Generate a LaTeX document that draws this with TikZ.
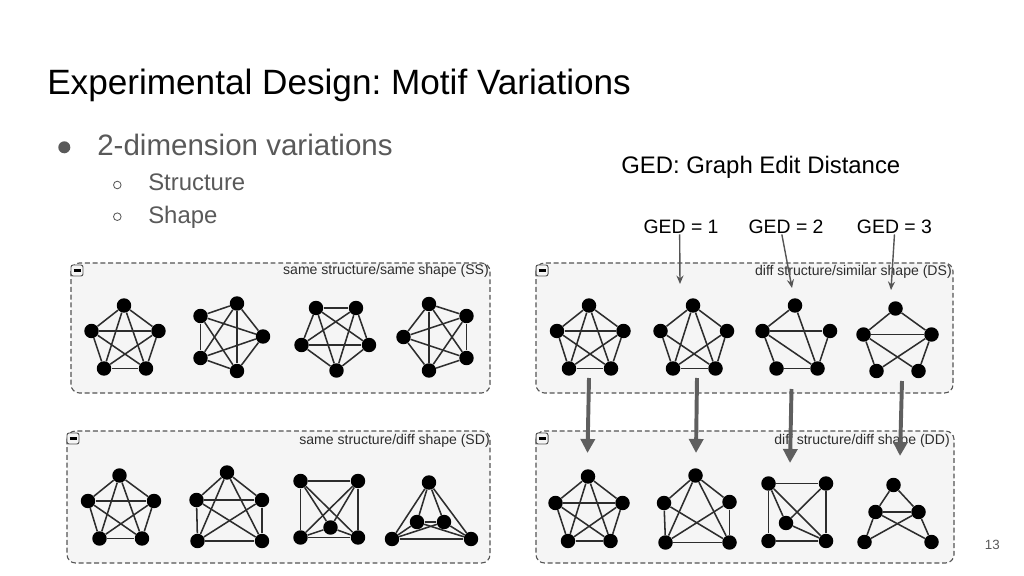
\documentclass[tikz,border=0pt]{standalone}
\usepackage{fontspec}
\setmainfont{Liberation Sans}
\usepackage{tikz}
\usetikzlibrary{arrows.meta, positioning, calc}
\definecolor{bodygray}{RGB}{89, 89, 89}
\definecolor{boxgray}{RGB}{245, 245, 245}
\definecolor{dashgray}{RGB}{85, 85, 85}
\definecolor{edgegray}{RGB}{45, 45, 45}
\definecolor{arrowgray}{RGB}{95, 95, 95}
\frenchspacing

\begin{document}
\begin{tikzpicture}[x=0.025cm, y=-0.025cm,
    vtx/.style={circle, fill=black, inner sep=0pt, minimum size=10.3pt},
    edge/.style={draw=edgegray, line width=1.1pt},
    panel/.style={draw=dashgray, fill=boxgray, line width=0.8pt, dash pattern=on 3.5pt off 2pt, rounded corners=6pt},
    paneltag/.style={anchor=base east, inner sep=0pt, text=edgegray, font=\fontsize{10}{12}\selectfont},
    minusbox/.style={draw=dashgray, fill=boxgray, rounded corners=1.5pt, line width=0.7pt},
    gedtag/.style={anchor=base west, inner sep=0pt, font=\fontsize{13.8}{16}\selectfont},
    gedarrow/.style={draw=dashgray, line width=1pt, -{Stealth[length=6pt, width=5pt]}},
    bigarrow/.style={draw=arrowgray, line width=2.8pt, -{Triangle[length=10pt, width=10pt]}}]
  \useasboundingbox (0,0) rectangle (1024,576);

  % title and bullets
  \node[anchor=base west, inner sep=0pt, font=\fontsize{25}{30}\selectfont] (title) at (47,95) {Experimental Design: Motif Variations};
  \fill[bodygray] (64.3,147.3) circle (6);
  \node[anchor=base west, inner sep=0pt, text=bodygray, font=\fontsize{21}{25}\selectfont] (dims) at (97,156) {2-dimension variations};
  \draw[bodygray, line width=0.6pt] (117.3,185) circle (3.8);
  \node[anchor=base west, inner sep=0pt, text=bodygray, font=\fontsize{17}{20}\selectfont] (struct) at (148,190.7) {Structure};
  \draw[bodygray, line width=0.6pt] (117.3,216.7) circle (3.8);
  \node[anchor=base west, inner sep=0pt, text=bodygray, font=\fontsize{17}{20}\selectfont] (shape) at (148,223.3) {Shape};

  \node[anchor=base west, inner sep=0pt, font=\fontsize{17}{20}\selectfont] (gedtitle) at (621,173.3) {GED: Graph Edit Distance};
  \node[gedtag] (ged1) at (643.3,234) {GED = 1};
  \node[gedtag] (ged2) at (748.3,234) {GED = 2};
  \node[gedtag] (ged3) at (856.7,234) {GED = 3};

  % panels
  \draw[panel] (71,263) rectangle (490,393);
  \draw[panel] (536,263) rectangle (953,393);
  \draw[panel] (67,431) rectangle (490,563);
  \draw[panel] (536,431) rectangle (954,563);
  \foreach \x/\y in {71/265, 536/265, 67/433, 536/433} {
    \draw[minusbox] (\x,\y) rectangle ++(12,11);
    \draw[line width=1.6pt] ($(\x,\y)+(2.5,5.5)$) -- ++(7,0);
  }
  \node[paneltag] (sstag) at (489,275) {same structure/same shape (SS)};
  \node[paneltag] (dstag) at (952,276) {diff structure/similar shape (DS)};
  \node[paneltag] (sdtag) at (490,444.3) {same structure/diff shape (SD)};
  \node[paneltag] (ddtag) at (950,444.3) {diff structure/diff shape (DD)};

  % vertices
  \foreach \n/\x/\y in {1/124/305.5, 2/91.5/331, 3/158.5/331, 4/104/368.5, 5/146/368.5}
    \node[vtx] (ssA\n) at (\x,\y) {};
  \foreach \n/\x/\y in {1/237/303.5, 2/200.5/316, 3/263/336.5, 4/200.5/358, 5/237/371}
    \node[vtx] (ssB\n) at (\x,\y) {};
  \foreach \n/\x/\y in {1/316/308, 2/356/308, 3/301.5/345, 4/369/345, 5/336.5/370.5}
    \node[vtx] (ssC\n) at (\x,\y) {};
  \foreach \n/\x/\y in {1/429/304, 2/466.5/316, 3/403.5/337, 4/466.5/358, 5/429/370.5}
    \node[vtx] (ssD\n) at (\x,\y) {};

  \foreach \n/\x/\y in {1/589/305.5, 2/557/331, 3/623.5/331, 4/569/368.5, 5/611/368.5}
    \node[vtx] (dsA\n) at (\x,\y) {};
  \foreach \n/\x/\y in {1/693/305.5, 2/660.5/331, 3/727/331, 4/673/368.5, 5/715.5/368.5}
    \node[vtx] (dsB\n) at (\x,\y) {};
  \foreach \n/\x/\y in {1/795/305.5, 2/762.5/331, 3/830/331, 4/776.5/368.5, 5/817.5/368.5}
    \node[vtx] (dsC\n) at (\x,\y) {};
  \foreach \n/\x/\y in {1/895.5/308.5, 2/863.5/334.5, 3/931.5/334.5, 4/876.5/371, 5/918.5/371}
    \node[vtx] (dsD\n) at (\x,\y) {};

  \foreach \n/\x/\y in {1/119.5/475.5, 2/88/501, 3/154/501, 4/99.5/538.5, 5/142/538.5}
    \node[vtx] (sdA\n) at (\x,\y) {};
  \foreach \n/\x/\y in {1/227/472.5, 2/196.5/500, 3/262/500, 4/197.5/541, 5/262/541}
    \node[vtx] (sdB\n) at (\x,\y) {};
  \foreach \n/\x/\y in {1/300.5/481, 2/358/481, 3/300.5/537.5, 4/358/537.5, 5/330.5/527.5}
    \node[vtx] (sdC\n) at (\x,\y) {};
  \foreach \n/\x/\y in {1/429/482.5, 2/417/522, 3/444/522, 4/392/539, 5/471/539}
    \node[vtx] (sdD\n) at (\x,\y) {};

  \foreach \n/\x/\y in {1/588/476.5, 2/555.5/503, 3/622.5/503, 4/568/541, 5/610.5/541}
    \node[vtx] (ddA\n) at (\x,\y) {};
  \foreach \n/\x/\y in {1/695.5/475.5, 2/664/503, 3/729.5/502, 4/665.5/542.5, 5/729.5/542.5}
    \node[vtx] (ddB\n) at (\x,\y) {};
  \foreach \n/\x/\y in {1/768.5/483.5, 2/826/483.5, 3/786/523, 4/768.5/541, 5/826/541}
    \node[vtx] (ddC\n) at (\x,\y) {};
  \foreach \n/\x/\y in {1/893.5/485, 2/875.5/512, 3/918.5/512, 4/864.5/542, 5/931.5/542}
    \node[vtx] (ddD\n) at (\x,\y) {};

  % edges: complete graphs first
  \foreach \g in {ssA, ssB, ssC, ssD, dsA, sdA, sdB, sdC, sdD, ddA}
    \foreach \i/\j in {1/2, 1/3, 1/4, 1/5, 2/3, 2/4, 2/5, 3/4, 3/5, 4/5}
      \draw[edge] (\g\i) -- (\g\j);
  \foreach \g in {dsB, ddB}
    \foreach \i/\j in {1/2, 1/3, 1/4, 1/5, 2/4, 2/5, 3/4, 3/5, 4/5}
      \draw[edge] (\g\i) -- (\g\j);
  \foreach \i/\j in {1/2, 1/5, 2/3, 2/4, 2/5, 4/5, 3/5}
    \draw[edge] (dsC\i) -- (dsC\j);
  \foreach \i/\j in {1/2, 1/3, 2/3, 2/4, 2/5, 3/4, 3/5}
    \draw[edge] (dsD\i) -- (dsD\j);
  \foreach \i/\j in {1/2, 1/4, 2/5, 4/5, 1/3, 1/5, 2/3, 3/5}
    \draw[edge] (ddC\i) -- (ddC\j);
  \foreach \i/\j in {1/2, 1/3, 2/3, 2/4, 3/5, 2/5, 3/4}
    \draw[edge] (ddD\i) -- (ddD\j);

  % GED pointers
  \coordinate (tip1) at (680,284);
  \coordinate (tip2) at (792,288);
  \coordinate (tip3) at (891,290);
  \draw[gedarrow] ([xshift=-1pt]ged1.south) -- (tip1);
  \draw[gedarrow] ([xshift=-3pt]ged2.south) -- (tip2);
  \draw[gedarrow] ([xshift=0pt]ged3.south) -- (tip3);

  % DS -> DD
  \foreach \k/\xa/\ya/\xb/\yb in {1/589/378/587.5/453, 2/697/378/696/453, 3/791.5/389/790/463, 4/902/381/900/456} {
    \coordinate (from\k) at (\xa,\ya);
    \coordinate (to\k) at (\xb,\yb);
    \draw[bigarrow] (from\k) -- (to\k);
  }

  \node[anchor=base east, inner sep=0pt, text=bodygray, font=\fontsize{9.5}{11}\selectfont] (pagenum) at (1000,549) {13};
\end{tikzpicture}
\end{document}
